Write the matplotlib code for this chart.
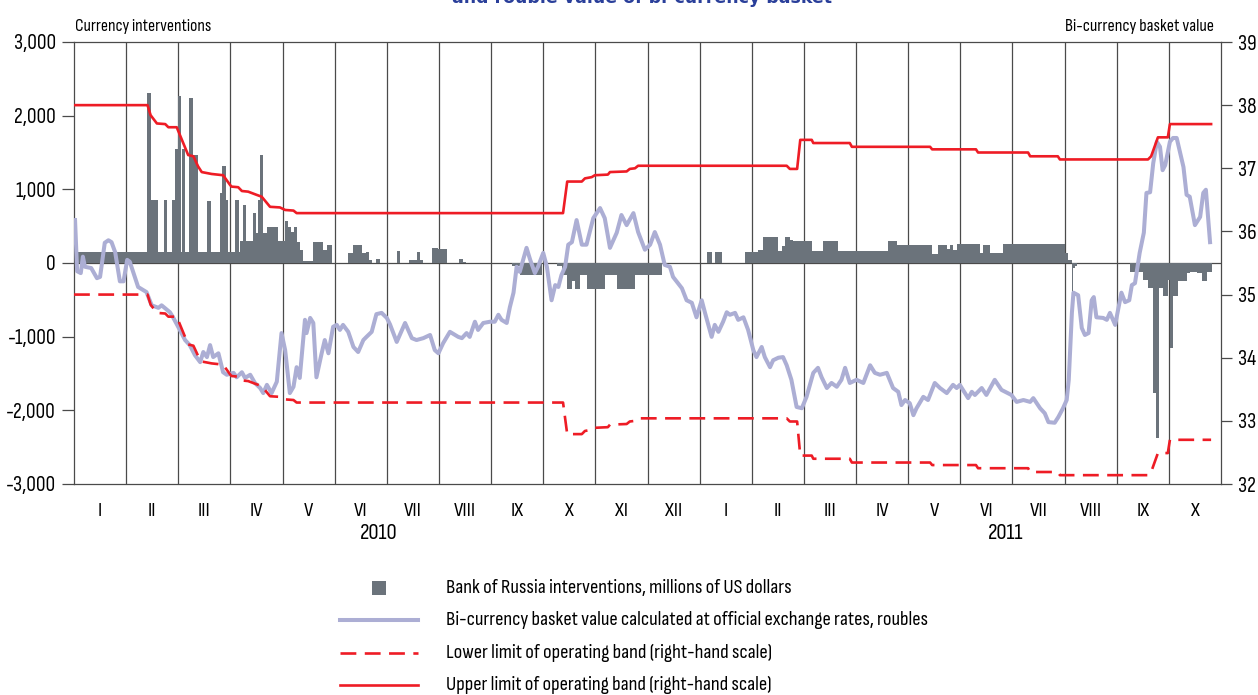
import matplotlib
matplotlib.use('Agg')
import matplotlib.pyplot as plt
from matplotlib.lines import Line2D
from matplotlib.patches import Rectangle
import matplotlib.transforms as mtransforms

plt.rcParams['font.family'] = ['Sofia Sans Condensed', 'Roboto Condensed', 'DejaVu Sans']

# x values are months since 1 Jan 2010 (0 = start of January 2010)
months = ['I', 'II', 'III', 'IV', 'V', 'VI', 'VII', 'VIII', 'IX', 'X', 'XI', 'XII',
          'I', 'II', 'III', 'IV', 'V', 'VI', 'VII', 'VIII', 'IX', 'X']
years = ['2010', '2011']

# Bank of Russia interventions, millions of US dollars (value holds until next x)
inter_x = [0.000, 0.082, 1.406, 1.471, 1.605, 1.732, 1.789, 1.874, 1.937, 1.989,
           2.052, 2.077, 2.129, 2.211, 2.277, 2.384, 2.557, 2.622, 2.800, 2.844,
           2.909, 2.959, 3.094, 3.159, 3.184, 3.236, 3.299, 3.427, 3.491, 3.529,
           3.567, 3.631, 3.707, 3.918, 4.047, 4.110, 4.162, 4.219, 4.277, 4.334,
           4.398, 4.590, 4.770, 4.847, 4.942, 5.261, 5.357, 5.518, 5.600, 5.664,
           5.715, 5.792, 5.869, 6.189, 6.252, 6.431, 6.573, 6.636, 6.694, 6.860,
           6.987, 7.160, 7.390, 7.455, 7.518, 8.395, 8.554, 8.970, 9.258, 9.354,
           9.450, 9.545, 9.609, 9.705, 9.833, 10.184, 10.408, 10.759, 11.271, 12.135,
           12.230, 12.294, 12.428, 12.869, 13.124, 13.208, 13.508, 13.573, 13.636, 13.732,
           13.795, 14.148, 14.359, 14.658, 15.617, 15.778, 16.450, 16.576, 16.737, 16.801,
           16.864, 16.929, 17.376, 17.439, 17.568, 17.823, 19.006, 19.070, 19.135, 19.166,
           19.198, 19.237, 20.253, 20.508, 20.604, 20.700, 20.752, 20.815, 20.892, 20.988,
           21.020, 21.083, 21.179, 21.340, 21.404, 21.532, 21.628, 21.724, 21.820]
inter_v = [0, 150, 2310, 860, 150, 857, 150, 857, 1546, 2262,
           150, 1550, 150, 2240, 1470, 150, 843, 150, 948, 1323,
           857, 150, 857, 150, 302, 789, 302, 676, 404, 857,
           1460, 404, 494, 302, 571, 494, 420, 494, 290, 180,
           22, 290, 180, 245, 0, 140, 245, 130, 150, 40,
           0, 50, 0, 160, 0, 35, 150, 35, 0, 200,
           190, 0, 55, 20, 0, -37, -160, 0, -35, -160,
           -350, -250, -350, -160, -355, -160, -355, -160, 0, 150,
           0, 150, 0, 150, 170, 348, 160, 235, 348, 317,
           302, 160, 302, 160, 302, 250, 122, 250, 190, 250,
           175, 258, 140, 245, 140, 258, 140, 40, -612, -68,
           -40, 0, -128, -227, -340, -1768, -2380, -340, -454, -227,
           -1156, -454, -250, -136, -128, -136, -250, -128, 0]

# bi-currency basket value, roubles
basket_x = [0.02, 0.06, 0.13, 0.17, 0.21, 0.33, 0.44, 0.50, 0.59, 0.66, 0.72, 0.79, 0.88, 0.95, 1.02, 1.07,
            1.23, 1.39, 1.49, 1.62, 1.68, 1.78, 1.84, 1.90, 2.03, 2.13, 2.22, 2.32, 2.42, 2.48, 2.55, 2.61,
            2.67, 2.77, 2.86, 2.93, 3.06, 3.12, 3.22, 3.28, 3.38, 3.47, 3.57, 3.63, 3.70, 3.79, 3.89, 3.98,
            4.05, 4.14, 4.21, 4.27, 4.33, 4.43, 4.46, 4.53, 4.59, 4.65, 4.75, 4.81, 4.88, 4.97, 5.04, 5.10,
            5.16, 5.26, 5.36, 5.45, 5.55, 5.61, 5.71, 5.80, 5.90, 6.00, 6.06, 6.19, 6.35, 6.48, 6.57, 6.70,
            6.83, 6.92, 6.99, 7.08, 7.21, 7.37, 7.44, 7.53, 7.59, 7.69, 7.75, 7.85, 7.98, 8.07, 8.14, 8.20,
            8.30, 8.36, 8.43, 8.49, 8.55, 8.68, 8.75, 8.84, 8.90, 9.00, 9.07, 9.16, 9.23, 9.29, 9.35, 9.42,
            9.48, 9.55, 9.64, 9.74, 9.83, 9.96, 10.09, 10.18, 10.28, 10.41, 10.50, 10.60, 10.73, 10.82, 10.95, 11.05,
            11.14, 11.24, 11.33, 11.43, 11.49, 11.66, 11.75, 11.85, 11.94, 12.04, 12.10, 12.23, 12.29, 12.36, 12.45, 12.52,
            12.58, 12.68, 12.74, 12.84, 12.93, 13.03, 13.09, 13.19, 13.25, 13.35, 13.41, 13.51, 13.60, 13.67, 13.76, 13.86,
            13.96, 14.05, 14.18, 14.27, 14.34, 14.44, 14.53, 14.63, 14.72, 14.79, 14.88, 15.01, 15.14, 15.27, 15.36, 15.46,
            15.59, 15.71, 15.81, 15.87, 15.94, 16.03, 16.10, 16.16, 16.29, 16.38, 16.51, 16.61, 16.74, 16.86, 16.93, 16.99,
            17.15, 17.22, 17.28, 17.41, 17.50, 17.66, 17.79, 17.98, 18.08, 18.21, 18.34, 18.40, 18.53, 18.62, 18.69, 18.81,
            18.88, 18.97, 19.04, 19.08, 19.14, 19.17, 19.26, 19.33, 19.39, 19.46, 19.52, 19.56, 19.61, 19.74, 19.81, 19.87,
            19.97, 20.09, 20.16, 20.24, 20.29, 20.35, 20.38, 20.44, 20.52, 20.57, 20.64, 20.70, 20.77, 20.83, 20.88, 20.93,
            21.02, 21.08, 21.15, 21.28, 21.34, 21.40, 21.50, 21.60, 21.66, 21.71, 21.79]
basket_v = [36.18, 35.37, 35.34, 35.60, 35.44, 35.42, 35.26, 35.28, 35.82, 35.86, 35.83, 35.67, 35.21, 35.21, 35.55, 35.52,
            35.12, 35.04, 34.83, 34.79, 34.83, 34.76, 34.72, 34.64, 34.44, 34.28, 34.20, 34.04, 33.93, 34.09, 34.01, 34.20,
            34.01, 34.07, 33.77, 33.73, 33.76, 33.69, 33.77, 33.68, 33.73, 33.60, 33.52, 33.44, 33.57, 33.44, 33.62, 34.39,
            34.12, 33.44, 33.54, 33.85, 33.68, 34.60, 34.39, 34.63, 34.55, 33.69, 34.07, 34.28, 34.07, 34.49, 34.52, 34.44,
            34.52, 34.41, 34.17, 34.09, 34.28, 34.33, 34.41, 34.69, 34.71, 34.63, 34.53, 34.25, 34.55, 34.31, 34.28, 34.31,
            34.36, 34.12, 34.07, 34.23, 34.41, 34.33, 34.31, 34.39, 34.33, 34.57, 34.44, 34.55, 34.57, 34.57, 34.68, 34.60,
            34.55, 34.80, 35.03, 35.44, 35.36, 35.74, 35.55, 35.34, 35.44, 35.66, 35.44, 34.91, 35.15, 35.12, 35.31, 35.44,
            35.79, 35.83, 36.18, 35.79, 35.79, 36.21, 36.37, 36.21, 35.74, 35.98, 36.26, 36.10, 36.29, 35.99, 35.71, 35.79,
            35.99, 35.79, 35.47, 35.44, 35.28, 35.10, 34.91, 34.87, 34.64, 34.91, 34.72, 34.33, 34.52, 34.41, 34.57, 34.72,
            34.68, 34.71, 34.60, 34.64, 34.44, 34.12, 34.01, 34.17, 34.01, 33.85, 33.96, 34.00, 34.01, 33.88, 33.65, 33.22,
            33.20, 33.38, 33.76, 33.84, 33.69, 33.52, 33.60, 33.54, 33.65, 33.84, 33.60, 33.65, 33.60, 33.88, 33.76, 33.73,
            33.76, 33.52, 33.46, 33.25, 33.33, 33.28, 33.09, 33.20, 33.38, 33.33, 33.60, 33.52, 33.44, 33.57, 33.52, 33.57,
            33.36, 33.46, 33.41, 33.52, 33.41, 33.65, 33.49, 33.41, 33.30, 33.33, 33.30, 33.36, 33.20, 33.12, 32.98, 32.97,
            33.06, 33.20, 33.33, 33.65, 34.71, 35.03, 34.99, 34.47, 34.36, 34.39, 34.91, 34.96, 34.64, 34.63, 34.60, 34.71,
            34.52, 35.03, 34.88, 34.91, 35.15, 35.18, 35.34, 35.66, 35.98, 36.61, 36.62, 37.08, 37.42, 37.34, 36.97, 37.05,
            37.42, 37.48, 37.48, 37.02, 36.58, 36.55, 36.10, 36.23, 36.61, 36.66, 35.83]

# operating band limits (right-hand scale)
band_x = [0, 1.41, 1.47, 1.59, 1.75, 1.81, 1.97, 2.07, 2.19, 2.29,
          2.38, 2.45, 2.64, 2.86, 2.99, 3.02, 3.15, 3.22, 3.34, 3.50,
          3.60, 3.76, 3.95, 4.05, 4.21, 4.27, 9.38, 9.46, 9.74, 9.80,
          9.93, 9.99, 10.24, 10.28, 10.60, 10.66, 10.76, 10.82, 13.67, 13.73,
          13.87, 13.93, 14.15, 14.18, 14.88, 14.92, 16.42, 16.46, 17.30, 17.34,
          18.30, 18.34, 18.87, 18.91, 20.60, 20.66, 20.79, 20.98, 21.02, 21.81]
upper_v = [38.00, 38.00, 37.84, 37.71, 37.70, 37.65, 37.65, 37.45, 37.21, 37.19,
           37.03, 36.94, 36.91, 36.89, 36.74, 36.71, 36.70, 36.64, 36.63, 36.58,
           36.55, 36.39, 36.38, 36.34, 36.33, 36.29, 36.29, 36.79, 36.79, 36.84,
           36.86, 36.89, 36.90, 36.94, 36.95, 36.99, 37.00, 37.04, 37.04, 36.99,
           36.99, 37.45, 37.45, 37.40, 37.40, 37.34, 37.34, 37.30, 37.30, 37.25,
           37.25, 37.19, 37.19, 37.14, 37.14, 37.19, 37.49, 37.49, 37.70, 37.70]
lower_v = [35.00, 35.00, 34.84, 34.71, 34.70, 34.65, 34.65, 34.45, 34.21, 34.19,
           34.03, 33.94, 33.91, 33.89, 33.74, 33.71, 33.70, 33.64, 33.63, 33.58,
           33.55, 33.39, 33.38, 33.34, 33.33, 33.29, 33.29, 32.79, 32.79, 32.84,
           32.86, 32.89, 32.90, 32.94, 32.95, 32.99, 33.00, 33.04, 33.04, 32.99,
           32.99, 32.45, 32.45, 32.40, 32.40, 32.34, 32.34, 32.30, 32.30, 32.25,
           32.25, 32.19, 32.19, 32.14, 32.14, 32.19, 32.49, 32.49, 32.70, 32.70]

bar_col = '#6b737b'
basket_col = '#acaed4'
red = '#ee1c25'
grid_col = '#4a4a4a'

fig = plt.figure(figsize=(12.58, 6.95), dpi=100)
ax = fig.add_axes([74 / 1258, 211 / 695, 1147 / 1258, 442 / 695])

# month separators and zero line
for i in range(1, len(months)):
    ax.axvline(i, color=grid_col, lw=0.9, zorder=0)
ax.axhline(0, color=grid_col, lw=0.9, zorder=0)

# interventions
ax.fill_between(inter_x, inter_v, step='post', color=bar_col, lw=0, zorder=1)

ax.set_xlim(0, len(months))
ax.set_ylim(-3000, 3000)
ax.set_yticks(range(-3000, 3001, 1000))
ax.set_yticklabels([f'{v:,}' for v in range(-3000, 3001, 1000)])
ax.tick_params(axis='y', length=9, width=0.9, color=grid_col, pad=4, labelsize=15.5)
ax.set_xticks([i + 0.5 for i in range(len(months))])
ax.set_xticklabels(months)
ax.tick_params(axis='x', length=0, pad=13, labelsize=15)
for s in ax.spines.values():
    s.set_color(grid_col)
    s.set_linewidth(0.9)

ax2 = ax.twinx()
ax2.set_ylim(32, 39)
ax2.set_yticks(range(32, 40))
ax2.tick_params(axis='y', length=8, width=0.9, color=grid_col, pad=4, labelsize=15.5)
for s in ax2.spines.values():
    s.set_visible(False)

ax2.plot(basket_x, basket_v, color=basket_col, lw=2.9, solid_joinstyle='round', zorder=2)
ax2.plot(band_x, lower_v, color=red, lw=1.9, linestyle=(0, (6, 3.2)), zorder=3)
ax2.plot(band_x, upper_v, color=red, lw=1.9, zorder=3)

# year labels and axis headers
trans = mtransforms.blended_transform_factory(ax.transData, ax.transAxes)
ax.text(5.85, -0.111, years[0], transform=trans, ha='center', va='center', fontsize=16.5)
ax.text(17.86, -0.111, years[1], transform=trans, ha='center', va='center', fontsize=16.5)
ax.text(0.001, 1.036, 'Currency interventions', transform=ax.transAxes, ha='left', va='center', fontsize=12.6)
ax.text(0.9935, 1.036, 'Bi-currency basket value', transform=ax.transAxes, ha='right', va='center', fontsize=12.8)

fig.text(642 / 1258, 1 - 3 / 695, 'and rouble value of bi-currency basket', ha='center', va='baseline',
         fontsize=12.5, fontweight='bold', color='#2a3f9a', family='DejaVu Sans')

# legend
lx0, lx1 = 340 / 1258, 418 / 1258
rows = [1 - 588 / 695, 1 - 620 / 695, 1 - 653 / 695, 1 - 685 / 695]
labels = ['Bank of Russia interventions, millions of US dollars',
          'Bi-currency basket value calculated at official exchange rates, roubles',
          'Lower limit of operating band (right-hand scale)',
          'Upper limit of operating band (right-hand scale)']
fig.add_artist(Rectangle((372 / 1258, rows[0] - 7 / 695), 14 / 1258, 14 / 695,
                         transform=fig.transFigure, color=bar_col, lw=0))
fig.add_artist(Line2D([lx0, lx1], [rows[1]] * 2, transform=fig.transFigure, color=basket_col, lw=2.9))
fig.add_artist(Line2D([lx0, lx1], [rows[2]] * 2, transform=fig.transFigure, color=red, lw=1.9,
                      linestyle=(0, (6, 3.2))))
fig.add_artist(Line2D([lx0, lx1], [rows[3]] * 2, transform=fig.transFigure, color=red, lw=1.9))
for y, lab in zip(rows, labels):
    fig.text(446 / 1258, y, lab, ha='left', va='center', fontsize=14.8)

fig.savefig('out.png', dpi=100)
